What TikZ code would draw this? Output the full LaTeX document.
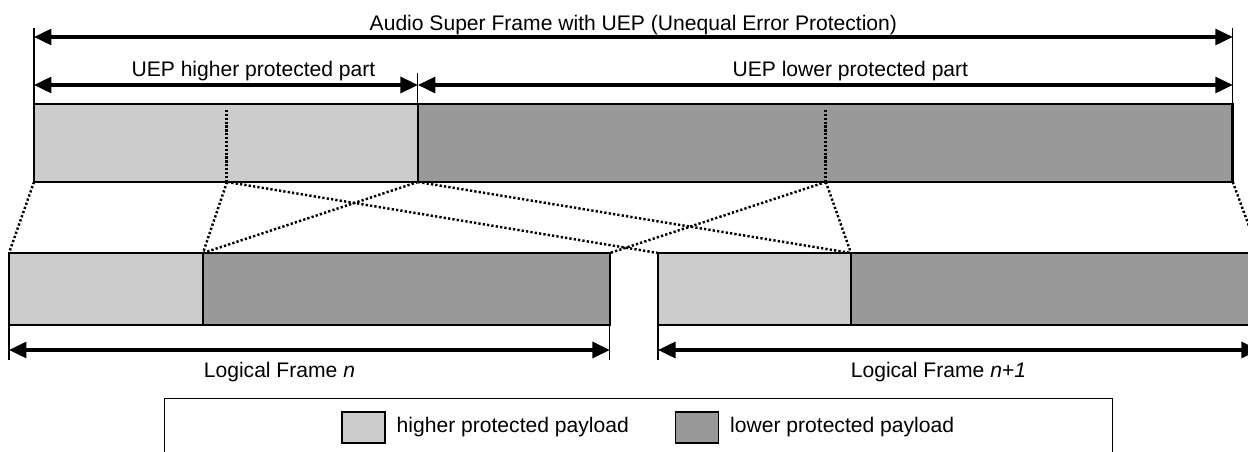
\documentclass[tikz,border=0pt]{standalone}
\usepackage{fontspec}
\setmainfont{Liberation Sans}
\usetikzlibrary{arrows.meta,positioning}
\definecolor{hpgray}{HTML}{CCCCCC}
\definecolor{lpgray}{HTML}{999999}

\begin{document}
\begin{tikzpicture}[
    x=0.02cm, y=-0.02cm,
    font=\fontsize{12}{14}\selectfont,
    part/.style={rectangle, inner sep=0pt, outer sep=0pt, anchor=north west, minimum height=1.56cm},
    cell/.style={part, draw, line width=1.5pt, minimum height=1.44cm},
    frame/.style={line width=1.5pt},
    divider/.style={line width=1.7pt, dash pattern=on 1.3pt off 0.9pt},
    mapline/.style={line width=1.4pt, dash pattern=on 1.3pt off 1.2pt},
    tick/.style={line width=0.6pt},
    dim/.style={{Triangle[length=0.35cm,width=0.32cm]}-{Triangle[length=0.35cm,width=0.32cm]}, line width=1.8pt},
    swatch/.style={rectangle, draw, line width=0.6pt, minimum width=0.86cm, minimum height=0.62cm, inner sep=0pt}
]
\useasboundingbox (0,0) rectangle (1248,452);

% Audio super frame
\node[part, fill=hpgray, minimum width=3.86cm] (hpA) at (34,104) {};
\node[part, fill=hpgray, minimum width=3.82cm] (hpB) at (hpA.north east) {};
\node[part, fill=lpgray, minimum width=8.16cm] (lpA) at (hpB.north east) {};
\node[part, fill=lpgray, minimum width=8.14cm] (lpB) at (lpA.north east) {};
\draw[frame] (hpA.north west) rectangle (lpB.south east);
\draw[frame] (hpB.north east) -- (hpB.south east);
\draw[divider] ([yshift=-0.12cm]hpA.north east) -- (hpA.south east);
\draw[divider] ([yshift=-0.12cm]lpA.north east) -- (lpA.south east);

% Logical frames
\node[cell, fill=hpgray, minimum width=3.88cm] (fnL) at (9,253) {};
\node[cell, fill=lpgray, minimum width=8.14cm] (fnD) at (fnL.north east) {};
\node[cell, fill=hpgray, minimum width=3.86cm] (fmL) at (658,253) {};
\node[cell, fill=lpgray, minimum width=8.16cm] (fmD) at (fmL.north east) {};

% Mapping lines
\draw[mapline] (hpA.south west) -- (fnL.north west);
\draw[mapline] (hpA.south east) -- (fnL.north east);
\draw[mapline] (hpA.south east) -- (fmL.north west);
\draw[mapline] (hpB.south east) -- (fmL.north east);
\draw[mapline] (lpA.south west) -- (fnD.north west);
\draw[mapline] (lpA.south east) -- (fnD.north east);
\draw[mapline] (lpA.south east) -- (fmD.north west);
\draw[mapline] (lpB.south east) -- (fmD.north east);

% Extension lines
\draw[tick] (hpA.north west) -- ++(0,-76);
\draw[tick] (lpB.north east) -- ++(0,-76);
\draw[tick] (hpB.north east) -- ++(0,-31);
\draw[tick] (fnL.south west) -- ++(0,35);
\draw[tick] (fnD.south east) -- ++(0,35);
\draw[tick] (fmL.south west) -- ++(0,35);
\draw[tick] (fmD.south east) -- ++(0,35);

% Dimension arrows
\coordinate (sfL) at (hpA.north west |- 0,37);
\coordinate (sfR) at (lpB.north east |- 0,37);
\coordinate (hpL) at (hpA.north west |- 0,85);
\coordinate (hpR) at (hpB.north east |- 0,85);
\coordinate (lpR) at (lpB.north east |- 0,85);
\coordinate (fnA) at (fnL.south west |- 0,350);
\coordinate (fnB) at (fnD.south east |- 0,350);
\coordinate (fmA) at (fmL.south west |- 0,350);
\coordinate (fmB) at (fmD.south east |- 0,350);
\draw[dim] (sfL) -- node[anchor=base, yshift=0.12cm] {Audio Super Frame with UEP (Unequal Error Protection)} (sfR);
\draw[dim] (hpL) -- node[anchor=base, yshift=0.17cm, xshift=0.55cm] {UEP higher protected part} (hpR);
\draw[dim] (hpR) -- node[anchor=base, yshift=0.17cm, xshift=0.5cm] {UEP lower protected part} (lpR);
\draw[dim] (fnA) -- node[anchor=base, yshift=-0.56cm, xshift=-0.6cm] {Logical Frame \textit{n}} (fnB);
\draw[dim] (fmA) -- node[anchor=base, yshift=-0.56cm, xshift=-0.4cm] {Logical Frame \textit{n}+\textit{1}} (fmB);

% Legend
\node[draw, line width=0.7pt, anchor=north west, minimum width=18.96cm, minimum height=1.6cm] (legend) at (164,398) {};
\node[swatch, fill=hpgray] (keyHP) at (363.5,427.5) {};
\node[right=0.1cm of keyHP] (txtHP) {higher protected payload};
\node[swatch, fill=lpgray] (keyLP) at (697,427.5) {};
\node[right=0.1cm of keyLP] (txtLP) {lower protected payload};

\end{tikzpicture}
\end{document}
